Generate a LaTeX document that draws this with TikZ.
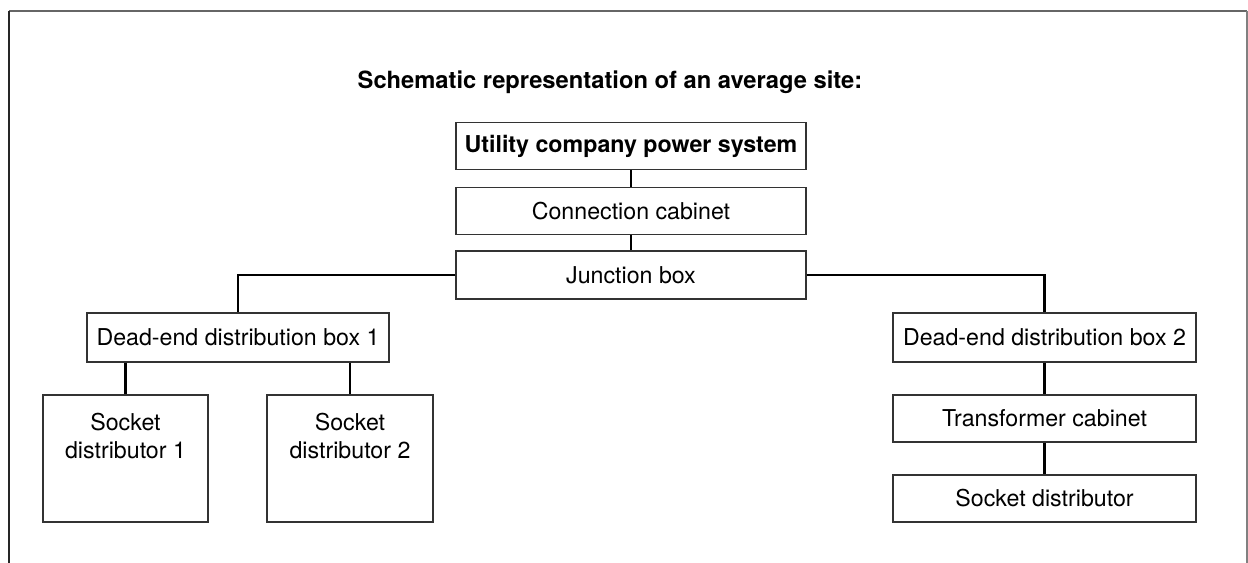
\documentclass[tikz,border=0pt]{standalone}
\usepackage{fontspec}
\setmainfont{TeX Gyre Heros}
\begin{document}
\begin{tikzpicture}[x=0.02cm, y=-0.02cm, font=\fontsize{13.2}{16}\selectfont,
    box/.style={draw=black!80, line width=0.8pt, inner sep=0pt, align=center},
    link/.style={line width=1.6pt}]
    \useasboundingbox (0,0) rectangle (1248,563);
    % Frame (open at the bottom)
    \draw[black!60, line width=1.2pt] (9,11) -- (1247,11);
    \draw[black!85, line width=0.9pt] (9,11) -- (9,563);
    \draw[black!50, line width=0.6pt] (1247,11) -- (1247,563);

    % Title
    \node[font=\fontsize{13.5}{16}\selectfont\bfseries] (title) at (610,82) {Schematic representation of an average site:};

    % Main chain
    \node[box, minimum width=7cm, minimum height=0.94cm, font=\fontsize{13.2}{16}\selectfont\bfseries] (util) at (631,146) {Utility company power system};
    \node[box, minimum width=7cm, minimum height=0.94cm] (conn) at (631,211) {Connection cabinet};
    \node[box, minimum width=7cm, minimum height=0.96cm] (junc) at (631,275) {Junction box};

    % Left branch
    \node[box, minimum width=6.04cm, minimum height=0.98cm] (deb1) at (238,337.5) {Dead-end distribution box 1};
    \node[box, minimum width=3.3cm, minimum height=2.54cm] (sock1) at (125.5,458.5) {\parbox[c][1.8cm][t]{3.2cm}{\centering Socket\\distributor 1}};
    \node[box, minimum width=3.32cm, minimum height=2.54cm] (sock2) at (350,458.5) {\parbox[c][1.8cm][t]{3.2cm}{\centering Socket\\distributor 2}};

    % Right branch
    \node[box, minimum width=6.06cm, minimum height=0.98cm] (deb2) at (1044.5,337.5) {Dead-end distribution box 2};
    \node[box, minimum width=6.06cm, minimum height=0.94cm] (trafo) at (1044.5,418.5) {Transformer cabinet};
    \node[box, minimum width=6.06cm, minimum height=0.94cm] (sockd) at (1044.5,498.5) {Socket distributor};

    % Connections
    \draw[link] (util) -- (conn);
    \draw[link] (conn) -- (junc);
    \draw[link] (junc.west) -| (deb1.north);
    \draw[link] (junc.east) -| (deb2.north);
    \draw[link] (deb1.south -| sock1.north) -- (sock1.north);
    \draw[link] (deb1.south -| sock2.north) -- (sock2.north);
    \draw[link] (deb2) -- (trafo);
    \draw[link] (trafo) -- (sockd);
\end{tikzpicture}
\end{document}
